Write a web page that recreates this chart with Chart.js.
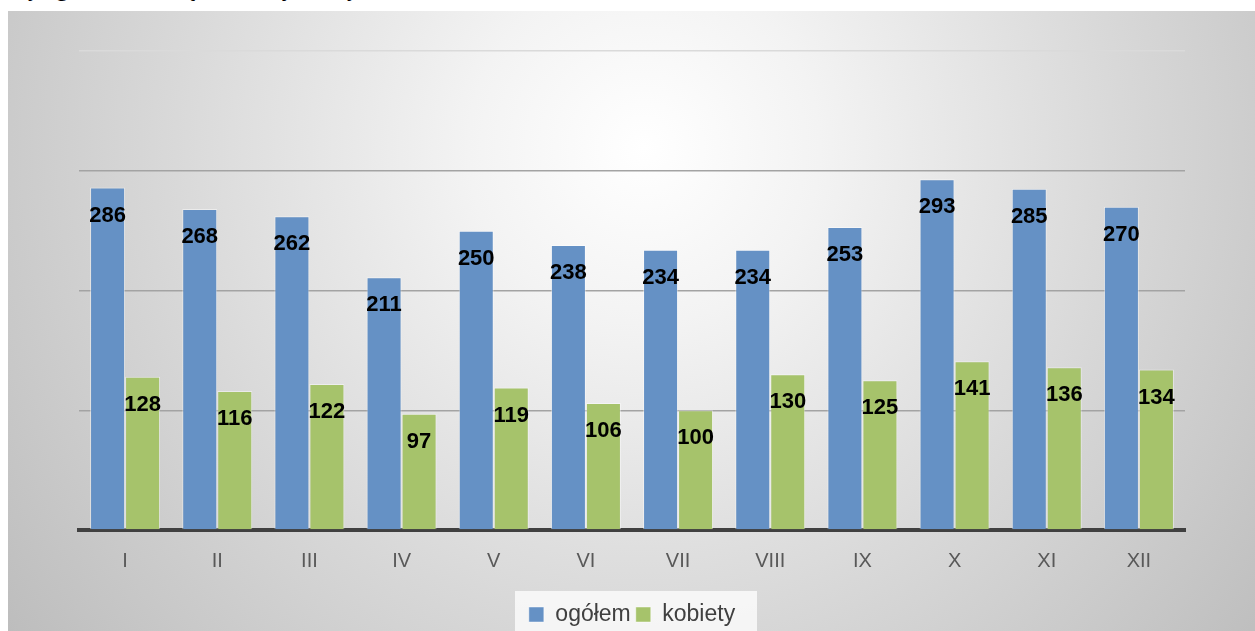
<!DOCTYPE html>
<html lang="pl">
<head>
    <meta charset="UTF-8">
    <title>ogółem i kobiety</title>
    <script src="https://cdn.jsdelivr.net/npm/chart.js"></script>
    <style>
        html, body { margin: 0; padding: 0; background: #ffffff; }
        body { width: 1255px; height: 631px; position: relative; overflow: hidden; }
        .tekst-nad { position: absolute; left: 0; top: 0; width: 1255px; height: 11px; overflow: hidden;
                     font-family: "Liberation Serif", serif; font-size: 24px; line-height: 24px; color: #000; }
        .tekst-nad span { position: absolute; top: -24px; }
        .wykres { position: absolute; left: 8px; top: 11px; width: 1247px; height: 620px;
                  background: radial-gradient(circle farthest-corner at 51% 22%, #ffffff 0%, #f3f3f3 22%, #d8d8d8 60%, #bdbdbd 100%); }
    </style>
</head>
<body>
<!-- końcówki liter z linii tekstu nad wykresem -->
<div class="tekst-nad">
    <span style="left:28px">y</span><span style="left:56px">g</span><span style="left:184px">ą</span><span style="left:283px">j</span><span style="left:347px">y</span>
</div>
<div class="wykres">
    <canvas id="wykres" width="1247" height="620"></canvas>
</div>

<script>
    // miesiące
    const miesiace = ['I', 'II', 'III', 'IV', 'V', 'VI', 'VII', 'VIII', 'IX', 'X', 'XI', 'XII'];
    const ogolem = [286, 268, 262, 211, 250, 238, 234, 234, 253, 293, 285, 270];
    const kobiety = [128, 116, 122, 97, 119, 106, 100, 130, 125, 141, 136, 134];
    const nazwySerii = ['ogółem', 'kobiety'];
    const kolory = ['#6591c5', '#a6c36b'];

    // etykiety wartości wewnątrz słupka, przy jego górze
    const etykiety = {
        id: 'etykiety',
        afterDatasetsDraw(chart) {
            const ctx = chart.ctx;
            ctx.save();
            ctx.font = 'bold 22px "Liberation Sans", Arial, sans-serif';
            ctx.fillStyle = '#000000';
            ctx.textAlign = 'center';
            ctx.textBaseline = 'middle';
            chart.data.datasets.forEach((ds, i) => {
                chart.getDatasetMeta(i).data.forEach((bar, j) => {
                    ctx.fillText(ds.data[j], bar.x, bar.y + 28);
                });
            });
            ctx.restore();
        }
    };

    // jasne tło pod legendą
    const tloLegendy = {
        id: 'tloLegendy',
        beforeDraw(chart) {
            const ctx = chart.ctx;
            ctx.save();
            ctx.fillStyle = 'rgba(255,255,255,0.75)';
            ctx.fillRect(507, 580, 242, 60);
            ctx.restore();
        }
    };

    const chart = new Chart(document.getElementById('wykres'), {
        type: 'bar',
        data: {
            labels: miesiace,
            datasets: [
                { label: nazwySerii[0], data: ogolem, backgroundColor: kolory[0],
                  borderColor: 'rgba(255,255,255,0.45)', borderWidth: 1 },
                { label: nazwySerii[1], data: kobiety, backgroundColor: kolory[1],
                  borderColor: 'rgba(255,255,255,0.45)', borderWidth: 1 }
            ]
        },
        options: {
            responsive: false,
            animation: false,
            layout: { padding: { left: 71, right: 70, top: 40, bottom: -5 } },
            datasets: { bar: { categoryPercentage: 0.76, barPercentage: 1.0 } },
            plugins: {
                legend: {
                    position: 'bottom',
                    labels: {
                        font: { family: '"Liberation Sans", Arial, sans-serif', size: 23 },
                        color: '#404040',
                        boxWidth: 15,
                        boxHeight: 15,
                        padding: 5
                    }
                },
                tooltip: { enabled: false }
            },
            scales: {
                x: {
                    grid: { display: false },
                    border: { color: '#404040', width: 4 },
                    ticks: {
                        font: { family: '"Liberation Sans", Arial, sans-serif', size: 20 },
                        color: '#595959',
                        padding: 11
                    },
                    afterFit: s => { s.height += 14; }
                },
                y: {
                    min: 0,
                    max: 400,
                    ticks: { display: false, stepSize: 100 },
                    border: { display: false },
                    grid: {
                        drawTicks: false,
                        lineWidth: 1.5,
                        color: c => c.tick && c.tick.value === 400 ? '#dadada' : '#a3a3a3'
                    },
                    afterFit: s => { s.width = 0; }
                }
            }
        },
        plugins: [tloLegendy, etykiety]
    });
</script>
</body>
</html>
